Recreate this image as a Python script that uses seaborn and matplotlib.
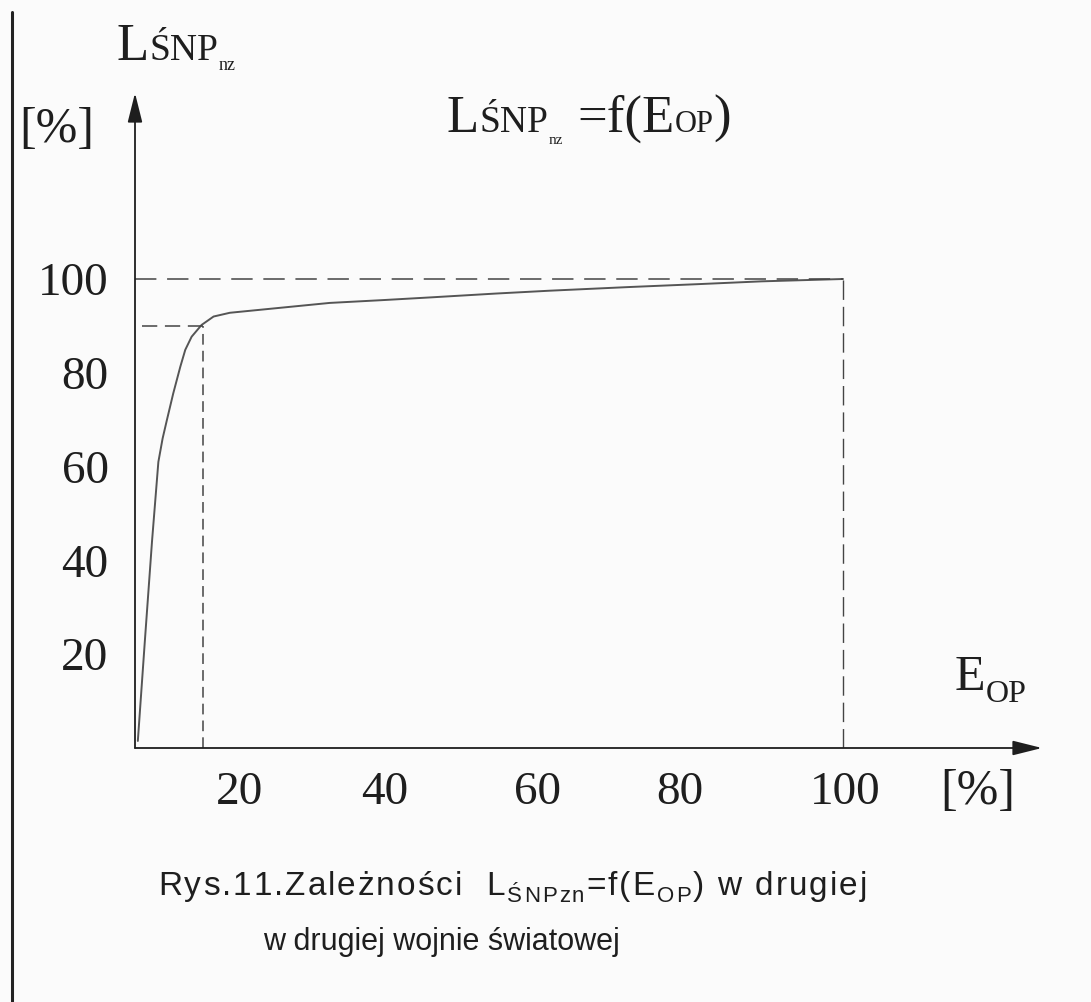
import numpy as np
import pandas as pd
import matplotlib.pyplot as plt
import seaborn as sns
from matplotlib.lines import Line2D

# values
e_op = [0.4, 1.4, 2.4, 3.3, 3.9, 4.5, 5.4, 6.4, 7.1, 8.0, 9.4, 11.1, 13.4, 18.1, 22.8,
        27.5, 35.0, 42.0, 51.0, 58.5, 70.0, 79.5, 88.5, 100.0]
l_snp = [1.5, 23.0, 44.0, 61.0, 66.0, 69.9, 75.6, 81.3, 84.9, 87.7, 90.2, 92.0, 92.8, 93.5, 94.2,
         94.9, 95.5, 96.1, 96.9, 97.5, 98.3, 98.9, 99.5, 100.0]

knee_e, knee_l = 9.6, 90.0
full = 100.0

# tick labels (x labels sit a bit off their values in the original drawing)
xtick_labels = ['20', '40', '60', '80', '100']
xtick_pos = [14.8, 35.3, 56.8, 77.0, 100.3]
ytick_labels = ['20', '40', '60', '80', '100']
ytick_vals = [20, 40, 60, 80, 100]

df = pd.DataFrame({'E_OP': e_op, 'L': l_snp})

sns.set_style('white')
plt.rcParams['font.family'] = ['Liberation Serif', 'DejaVu Sans']

W, H = 1091, 1002
bg = '#fbfbfb'
ink = '#1e1e1e'
fig = plt.figure(figsize=(W / 100, H / 100), dpi=100, facecolor=bg)
ax = fig.add_axes([135 / W, 254 / H, 907 / W, 655 / H])
ax.set_facecolor('none')

sns.lineplot(data=df, x='E_OP', y='L', ax=ax, color='#555555', lw=1.4, sort=False)

# dashed guide lines
ax.plot([0, full], [full, full], color='#444444', lw=1.1, ls=(0, (14, 7)))
ax.plot([full, full], [0, full], color='#444444', lw=1.0, ls=(0, (14, 5)))
ax.plot([1.0, knee_e], [knee_l, knee_l], color='#444444', lw=1.1, ls=(0, (10, 5)))
ax.plot([knee_e, knee_e], [0, knee_l], color='#444444', lw=1.1, ls=(0, (7, 4)))

ax.set_xlim(0, 907 / 7.08)
ax.set_ylim(0, 655 / 4.69)
ax.set_xlabel('')
ax.set_ylabel('')
sns.despine(ax=ax, left=True, bottom=True, top=True, right=True)

# axes drawn as arrows
arrow = dict(arrowstyle='-|>,head_length=1.8,head_width=0.45', color=ink, lw=1.3,
             shrinkA=0, shrinkB=0)
ax.annotate('', xy=(1, 0), xytext=(0, 0), xycoords='axes fraction', arrowprops=arrow)
ax.annotate('', xy=(0, 1), xytext=(0, 0), xycoords='axes fraction', arrowprops=arrow)

ax.set_xticks(xtick_pos, labels=xtick_labels)
ax.set_yticks(ytick_vals, labels=ytick_labels)
ax.tick_params(axis='x', length=0, pad=17, labelsize=34, labelcolor=ink)
ax.tick_params(axis='y', length=0, pad=19, labelsize=34, labelcolor=ink)

renderer = fig.canvas.get_renderer()


def chain(x, y, parts, family='Liberation Serif', spacing=0):
    # pieces of text one after another; x/y in pixels from the top-left,
    # each piece: (text, size, drop below baseline); spacing>0 spreads letters
    for s, size, dy in parts:
        chunks = list(s) if spacing else [s]
        for c in chunks:
            if c == ' ':
                x += size * 0.278 * 100 / 72 + spacing
                continue
            t = fig.text(x / W, 1 - (y + dy) / H, c, fontsize=size, family=family,
                         va='baseline', ha='left', color=ink)
            x += t.get_window_extent(renderer).width + spacing


chain(117, 60, [('L', 38, 0), ('ŚNP', 27, 0), ('nz', 13, 10)])
fig.text(57 / W, 1 - 130 / H, '[%]', fontsize=36, ha='center', va='center', color=ink)

chain(447, 132, [('L', 38, 0), ('ŚNP', 27, 0), ('nz', 11, 12)])
chain(577, 132, [('=f(E', 38, 0), ('OP', 22, 0), (')', 38, 0)])

chain(955, 690, [('E', 36, 0), ('OP', 23, 12)])
fig.text(978 / W, 1 - 792 / H, '[%]', fontsize=36, ha='center', va='center', color=ink)

chain(158, 895, [('Rys.11.Zależności  L', 24, 0), ('ŚNPzn', 16, 7), ('=f(E', 24, 0),
                 ('OP', 16, 7), (') w drugiej', 24, 0)],
      family='Liberation Sans', spacing=2)
fig.text(441 / W, 1 - 950 / H, 'w drugiej wojnie światowej', fontsize=22,
         family='Liberation Sans', ha='center', va='baseline', color=ink)

# dark edge of the scanned page
fig.add_artist(Line2D([12 / W, 12 / W], [0, 1 - 12 / H], color='#222222', lw=2.2))

fig.savefig('out.png', dpi=100, facecolor=bg)
